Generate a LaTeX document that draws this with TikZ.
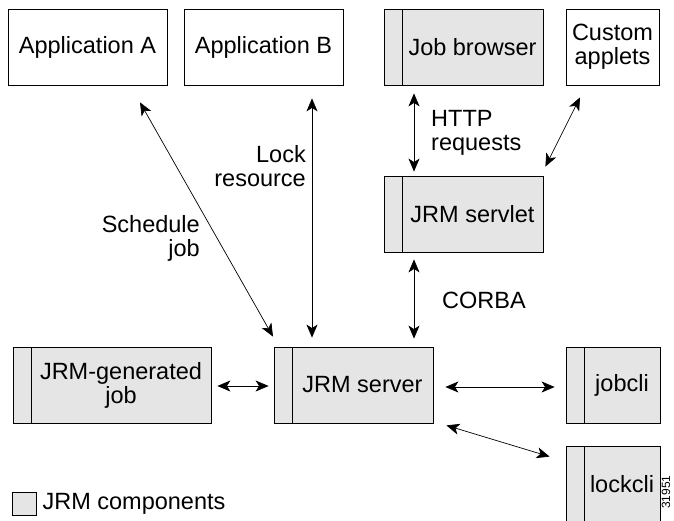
\documentclass[tikz,border=0pt]{standalone}
\usepackage{fontspec}
\setmainfont{Liberation Sans}
\usetikzlibrary{arrows.meta,positioning}

\tikzset{
  txt/.style={font=\fontsize{23.5}{24}\selectfont},
  box/.style={draw, line width=0.8pt, inner sep=0pt, minimum height=76pt, align=center, txt},
  comp/.style={box, fill=black!10,
    path picture={\draw[line width=0.8pt] ([xshift=18pt]path picture bounding box.north west) -- ([xshift=18pt]path picture bounding box.south west);}},
  tag/.style={txt, inner sep=0pt, xshift=9pt, align=center},
  link/.style={{Stealth[length=13pt,width=11pt,inset=3.5pt]}-{Stealth[length=13pt,width=11pt,inset=3.5pt]}, line width=0.7pt},
  note/.style={txt, inner sep=0pt}
}

\begin{document}
\begin{tikzpicture}[x=1pt, y=-1pt]
            \useasboundingbox (0,0) rectangle (674,521);

            % Define boxes
            \node[box, minimum width=159pt] (appA) at (87.5,47) {Application A};
            \node[box, minimum width=159pt] (appB) at (263.5,47) {Application B};
            \node[comp, minimum width=159pt, label={[tag]center:Job browser}] (browser) at (463.5,47) {};
            \node[box, minimum width=93pt] (applets) at (612.5,47) {Custom\\applets};
            \node[comp, minimum width=159pt, label={[tag]center:JRM servlet}] (servlet) at (463.5,214) {};
            \node[comp, minimum width=198pt, label={[tag]center:JRM-generated\\job}] (genjob) at (112,385) {};
            \node[comp, minimum width=159pt, label={[tag]center:JRM server}] (server) at (353.5,385) {};
            \node[comp, minimum width=94pt, label={[tag]center:jobcli}] (jobcli) at (613,385) {};
            \node[comp, minimum width=94pt, label={[tag]center:lockcli}] (lockcli) at (613,484) {};

            % Draw links
            \draw[link] ([shift={(52.5,17)}]appA.south) -- ([shift={(-80.5,-10)}]server.north);
            \draw[link] ([shift={(48.5,13)}]appB.south) -- ([shift={(-41.5,-9)}]server.north);
            \draw[link] ([shift={(-49.5,8)}]browser.south) -- ([shift={(-49.5,-4)}]servlet.north);
            \draw[link] ([shift={(-32.5,12)}]applets.south) -- ([shift={(2,-9)}]servlet.north east);
            \draw[link] ([shift={(-49.5,7)}]servlet.south) -- ([shift={(60.5,-8)}]server.north);
            \draw[link] ([shift={(6,1)}]genjob.east) -- ([shift={(-5,1)}]server.west);
            \draw[link] ([shift={(12,2)}]server.east) -- ([shift={(-11,2)}]jobcli.west);
            \draw[link] ([shift={(13,2)}]server.south east) -- ([shift={(-16,11)}]lockcli.north west);

            % Link labels
            \node[note, anchor=east, align=right] (schedlbl) at (200,238) {Schedule\\job};
            \node[note, anchor=east, align=right] (locklbl) at (306,166) {Lock\\resource};
            \node[note, anchor=west, align=left] (httplbl) at (431,133) {HTTP\\requests};
            \node[note, anchor=west] (corbalbl) at (442,300) {CORBA};

            % Legend
            \node[draw, fill=black!10, line width=0.8pt, inner sep=0pt, minimum width=24pt, minimum height=23pt] (key) at (24,503.5) {};
            \node[note, right=6pt of key] (keylbl) {JRM components};
            \node[inner sep=0pt, rotate=90, font=\fontsize{12}{12}\selectfont] (figno) at (666,492) {31951};
        \end{tikzpicture}
\end{document}
